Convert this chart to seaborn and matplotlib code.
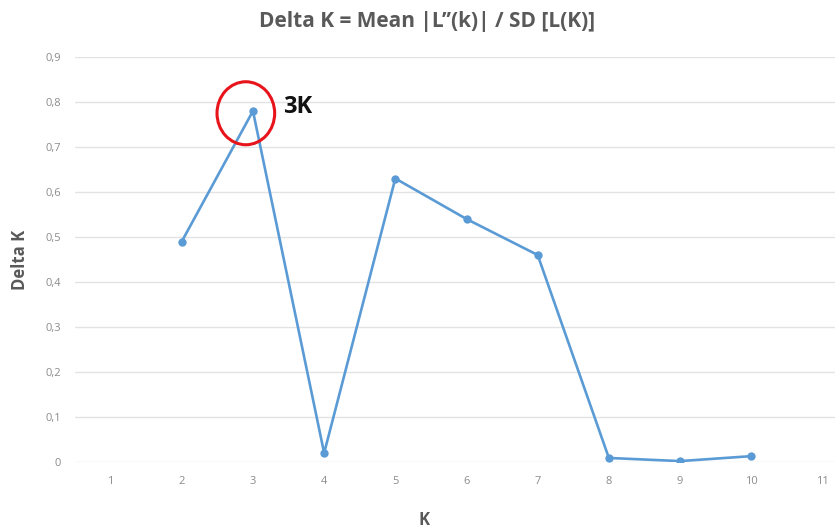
import matplotlib
matplotlib.use("Agg")
import matplotlib.pyplot as plt
from matplotlib.patches import Ellipse
import numpy as np
import pandas as pd
import seaborn as sns

# values
k_values = [2, 3, 4, 5, 6, 7, 8, 9, 10]
delta_k = [0.49, 0.78, 0.02, 0.63, 0.54, 0.46, 0.009, 0.002, 0.013]
x_ticks = list(range(1, 12))
y_ticks = [0.0, 0.1, 0.2, 0.3, 0.4, 0.5, 0.6, 0.7, 0.8, 0.9]
y_tick_labels = ["0", "0,1", "0,2", "0,3", "0,4", "0,5", "0,6", "0,7", "0,8", "0,9"]

sns.set_theme(style="white")
plt.rcParams["font.family"] = ["Open Sans", "DejaVu Sans"]

df = pd.DataFrame({"K": k_values, "delta_k": delta_k})

fig = plt.figure(figsize=(8.35, 5.32), dpi=100)
# plot area runs past the right edge, like the cropped original
ax = fig.add_axes([75 / 835, 1 - 462 / 532, 783 / 835, 405 / 532])

blue = "#5B9BD5"
sns.lineplot(data=df, x="K", y="delta_k", ax=ax, color=blue, linewidth=1.9,
             marker="o", markersize=6, markeredgewidth=0, zorder=3)

ax.set_xlim(0.5, 11.5)
ax.set_ylim(0, 0.9)
ax.set_xticks(x_ticks)
ax.set_xticklabels([str(t) for t in x_ticks])
ax.set_yticks(y_ticks)
ax.set_yticklabels(y_tick_labels)
ax.tick_params(axis="both", labelsize=8, colors="#8C8C8C", length=0)
ax.tick_params(axis="x", pad=10)
ax.tick_params(axis="y", pad=10)
ax.yaxis.grid(True, color="#E3E3E3", linewidth=1)
ax.xaxis.grid(False)
for s in ax.spines.values():
    s.set_visible(False)
ax.set_axisbelow(True)

ax.set_xlabel("")
ax.set_ylabel("Delta K", fontsize=12, fontweight="bold", color="#595959", labelpad=12)
fig.text(424 / 835, 1 - 520 / 532, "K", ha="center", va="center",
         fontsize=12, fontweight="bold", color="#595959")

# red circle around the peak and the label
ax.add_patch(Ellipse((2.9, 0.775), 0.81, 0.14, fill=False, edgecolor="#E8141B",
                     linewidth=2.2, zorder=4, clip_on=False))
ax.text(3.42, 0.79, "3K", fontsize=17, fontweight="bold", color="#111111",
        ha="left", va="center")

fig.text(427 / 835, 1 - 22 / 532, "Delta K = Mean |L\u2019\u2019(k)| / SD [L(K)]",
         ha="center", va="center", fontsize=15, fontweight="bold", color="#595959")

fig.savefig("out.png", dpi=100)
